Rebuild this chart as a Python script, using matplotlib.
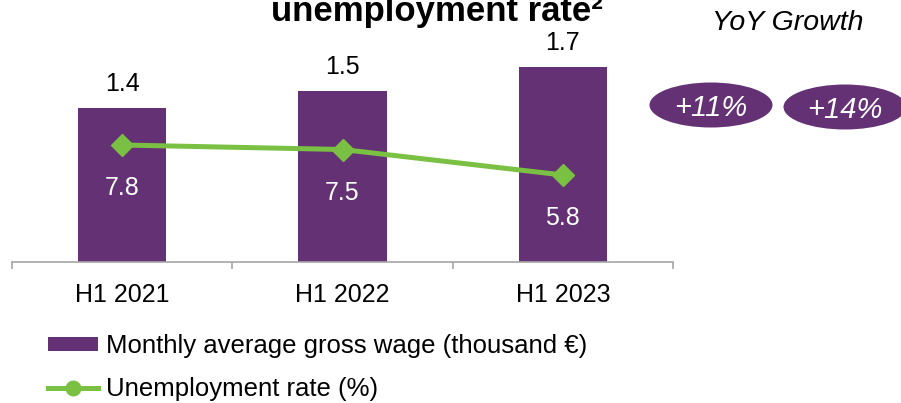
import matplotlib
matplotlib.use("Agg")
import matplotlib.pyplot as plt
from matplotlib.patches import Ellipse, Patch
from matplotlib.lines import Line2D

plt.rcParams['font.family'] = ['Liberation Sans', 'DejaVu Sans']

categories = ["H1 2021", "H1 2022", "H1 2023"]
wage = [1.35, 1.50, 1.71]
wage_labels = ["1.4", "1.5", "1.7"]
unemployment = [7.8, 7.5, 5.8]
unemp_labels = ["7.8", "7.5", "5.8"]
growth_labels = ["+11%", "+14%"]
title_text = "unemployment rate\u00b2"
legend_labels = ["Monthly average gross wage (thousand \u20ac)", "Unemployment rate (%)"]

PURPLE = "#643274"
GREEN = "#7AC143"
GRAY = "#A6A6A6"

W, H = 901, 403
fig = plt.figure(figsize=(W / 100, H / 100), dpi=100)

ax_left, ax_right, ax_bottom_px = 12, 673, 262
ax = fig.add_axes([ax_left / W, 1 - ax_bottom_px / H, (ax_right - ax_left) / W, ax_bottom_px / H])
x = list(range(len(categories)))
bars = ax.bar(x, wage, width=0.4, color=PURPLE, zorder=2)
ax.set_xlim(-0.5, 2.5)
ax.set_ylim(0, ax_bottom_px / 114.0)
for xi, v, lab in zip(x, wage, wage_labels):
    ax.annotate(lab, (xi, v), xytext=(0, 17.5), textcoords="offset points",
                ha="center", va="center", fontsize=18, color="black")

for s in ["top", "right", "left"]:
    ax.spines[s].set_visible(False)
ax.spines["bottom"].set_color(GRAY)
ax.spines["bottom"].set_linewidth(1.2)
ax.set_yticks([])
ax.set_xticks(x)
ax.set_xticklabels(categories, fontsize=18)
ax.tick_params(axis="x", which="major", length=0, pad=15)
ax.set_xticks([-0.5, 0.5, 1.5, 2.5], minor=True)
ax.tick_params(axis="x", which="minor", length=5, width=1.2, color=GRAY, direction="out")

ax2 = ax.twinx()
ax2.set_ylim(0, ax_bottom_px / 15.0)
ax2.plot(x, unemployment, color=GREEN, lw=3.6, marker="D", markersize=11, zorder=3)
for xi, v, lab in zip(x, unemployment, unemp_labels):
    ax2.annotate(lab, (xi, v), xytext=(0, -31), textcoords="offset points",
                 ha="center", va="center", fontsize=18, color="white")
for s in ax2.spines.values():
    s.set_visible(False)
ax2.set_yticks([])

# title (partially cut at top, as in the source)
fig.text(437 / W, 1 - 21 / H, title_text, ha="center", va="baseline",
         fontsize=25, fontweight="bold")

# YoY growth
fig.text(788 / W, 1 - 30 / H, "YoY Growth", ha="center", va="baseline",
         fontsize=20.5, style="italic")
ell_centers = [(711, 105), (845, 107)]
for (cx, cy), lab in zip(ell_centers, growth_labels):
    e = Ellipse((cx / W, 1 - cy / H), 123 / W, 45 / H, transform=fig.transFigure,
                facecolor=PURPLE, edgecolor="none")
    fig.add_artist(e)
    fig.text(cx / W, 1 - (cy + 11) / H, lab, ha="center", va="baseline", fontsize=21,
             style="italic", color="white")

handles = [Patch(facecolor=PURPLE, edgecolor="none"),
           Line2D([0], [0], color=GREEN, lw=3.6, marker="o", markersize=10.5)]
fig.legend(handles, legend_labels, loc="upper left", bbox_to_anchor=(48 / W, 1 - 334 / H),
           frameon=False, fontsize=18.5, handlelength=1.95, handleheight=0.5,
           handletextpad=0.3, borderpad=0, borderaxespad=0, labelspacing=0.75)

fig.savefig("out.png", dpi=100)
